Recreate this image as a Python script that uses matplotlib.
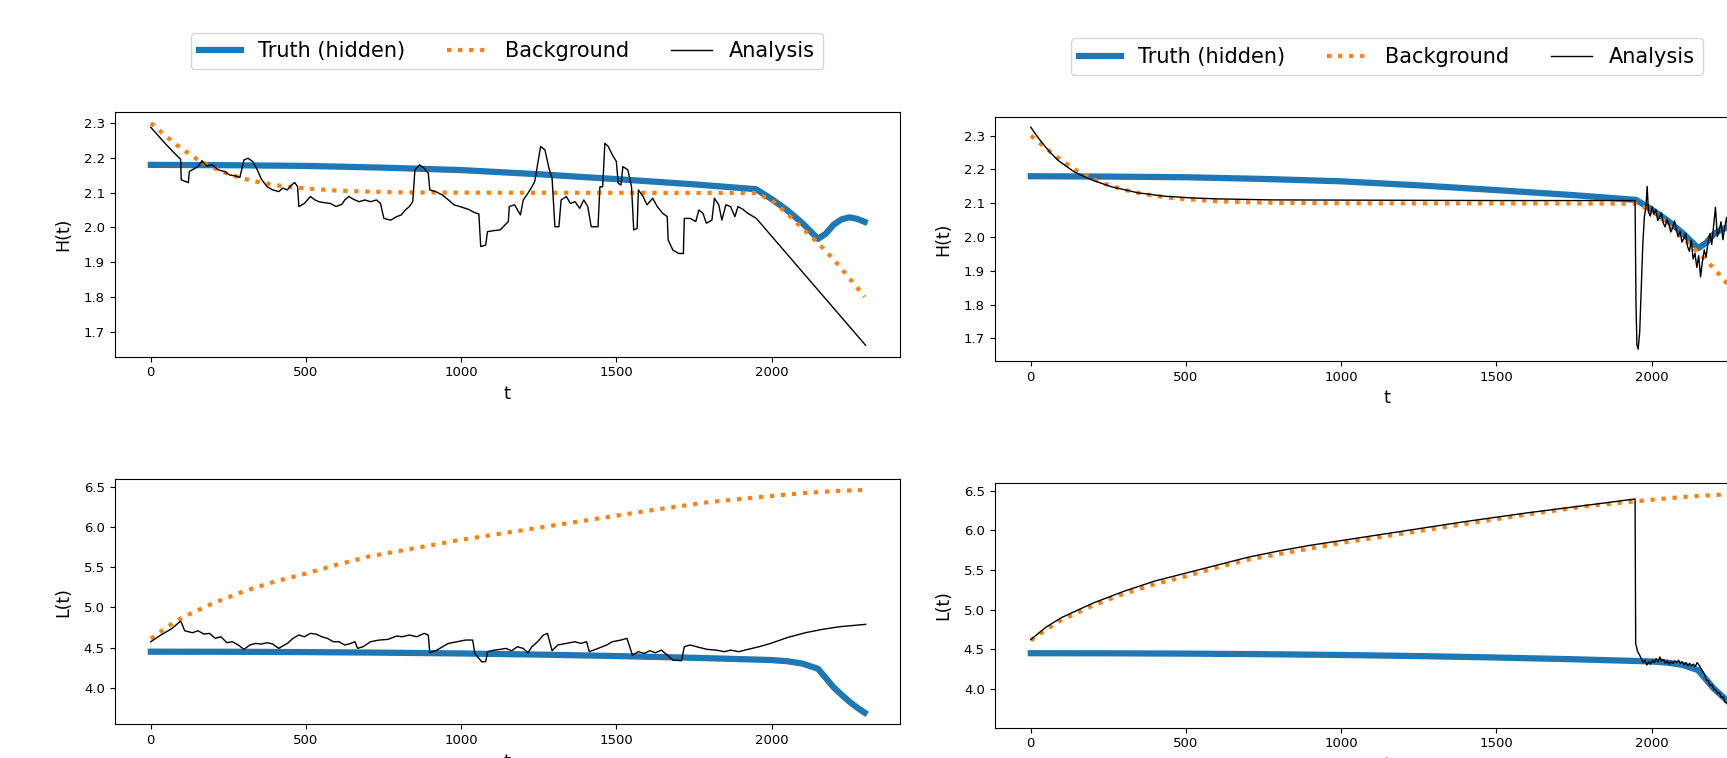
import matplotlib.pyplot as plt

# truth (same in both runs)
t_truth = [0, 250, 500, 750, 1000, 1250, 1500, 1750, 1950, 2000, 2050, 2100, 2150,
           2175, 2200, 2225, 2250, 2275, 2300]
H_truth = [2.180, 2.179, 2.177, 2.172, 2.165, 2.153, 2.139, 2.124, 2.110, 2.082, 2.050,
           2.012, 1.967, 1.982, 2.008, 2.023, 2.029, 2.025, 2.016]
L_truth = [4.448, 4.447, 4.443, 4.436, 4.426, 4.412, 4.394, 4.372, 4.350, 4.344, 4.330,
           4.300, 4.235, 4.120, 4.005, 3.915, 3.830, 3.755, 3.690]

# background (same in both runs)
t_bg_H = [0, 25, 50, 75, 100, 150, 200, 250, 300, 350, 400, 450, 500, 600, 700, 800,
          1000, 1950, 2000, 2050, 2100, 2150, 2200, 2250, 2300]
H_bg = [2.300, 2.281, 2.262, 2.243, 2.226, 2.196, 2.172, 2.154, 2.140, 2.130, 2.122,
        2.116, 2.112, 2.106, 2.103, 2.101, 2.100, 2.099, 2.078, 2.040, 1.997, 1.955,
        1.908, 1.855, 1.800]
t_bg_L = [0, 50, 100, 200, 300, 400, 500, 600, 700, 800, 900, 1000, 1200, 1400, 1600,
          1800, 2000, 2100, 2200, 2300]
L_bg = [4.61, 4.75, 4.87, 5.05, 5.20, 5.32, 5.42, 5.53, 5.63, 5.70, 5.77, 5.84, 5.96,
        6.08, 6.20, 6.31, 6.385, 6.42, 6.445, 6.46]

# run 1 (left): analysis H
t_ana_H1 = [0, 22, 50, 78, 96, 98, 121, 124, 152, 165, 180, 198, 217, 236, 254, 273, 287,
            300, 313, 328, 343, 356, 375, 393, 412, 425, 440, 453, 464, 473, 477, 495,
            514, 529, 542, 560, 579, 597, 616, 625, 638, 653, 671, 690, 708, 727, 740,
            751, 773, 792, 807, 820, 833, 844, 851, 866, 881, 894, 899, 918, 940, 959,
            977, 996, 1024, 1042, 1057, 1063, 1079, 1085, 1107, 1126, 1141, 1152, 1155,
            1172, 1191, 1200, 1215, 1228, 1237, 1246, 1256, 1270, 1283, 1293, 1302, 1315,
            1322, 1339, 1352, 1367, 1382, 1395, 1408, 1419, 1441, 1447, 1456, 1463, 1474,
            1487, 1500, 1506, 1515, 1521, 1537, 1549, 1556, 1567, 1571, 1586, 1599, 1617,
            1632, 1649, 1664, 1667, 1682, 1701, 1716, 1719, 1738, 1756, 1766, 1779, 1790,
            1808, 1816, 1830, 1840, 1853, 1868, 1882, 1892, 1908, 1923, 1951, 2303]
H_ana1 = [2.288, 2.266, 2.238, 2.212, 2.196, 2.137, 2.129, 2.161, 2.175, 2.192, 2.177,
          2.180, 2.166, 2.161, 2.151, 2.148, 2.144, 2.194, 2.199, 2.190, 2.166, 2.139,
          2.117, 2.108, 2.103, 2.113, 2.108, 2.122, 2.129, 2.117, 2.060, 2.069, 2.089,
          2.079, 2.074, 2.071, 2.069, 2.060, 2.067, 2.079, 2.089, 2.081, 2.074, 2.079,
          2.074, 2.079, 2.069, 2.026, 2.021, 2.031, 2.036, 2.050, 2.060, 2.074, 2.166,
          2.180, 2.170, 2.156, 2.108, 2.103, 2.093, 2.079, 2.065, 2.060, 2.052, 2.043,
          2.039, 1.945, 1.949, 1.988, 1.991, 1.993, 2.007, 2.017, 2.060, 2.065, 2.036,
          2.079, 2.098, 2.117, 2.132, 2.180, 2.233, 2.223, 2.170, 2.141, 2.002, 2.002,
          2.079, 2.089, 2.069, 2.074, 2.055, 2.079, 2.060, 2.002, 2.002, 2.117, 2.117,
          2.242, 2.233, 2.209, 2.190, 2.127, 2.122, 2.175, 2.166, 2.117, 1.993, 1.997,
          2.108, 2.089, 2.065, 2.084, 2.060, 2.041, 2.031, 1.964, 1.935, 1.925, 1.925,
          2.026, 2.026, 2.017, 2.050, 2.041, 2.012, 2.021, 2.084, 2.065, 2.021, 2.065,
          2.060, 2.031, 2.060, 2.052, 2.041, 2.026, 1.661]

# run 1 (left): analysis L
t_ana_L1 = [0, 32, 69, 96, 102, 109, 134, 152, 171, 189, 208, 226, 245, 263, 282, 300,
            319, 338, 356, 375, 393, 412, 421, 440, 458, 477, 495, 514, 532, 551, 569,
            588, 606, 625, 644, 658, 666, 684, 708, 736, 764, 792, 810, 833, 857, 881,
            894, 899, 922, 940, 959, 987, 1014, 1037, 1044, 1066, 1079, 1085, 1107, 1126,
            1144, 1163, 1181, 1200, 1215, 1228, 1246, 1265, 1278, 1293, 1311, 1339, 1367,
            1385, 1404, 1413, 1441, 1469, 1487, 1515, 1534, 1552, 1571, 1590, 1608, 1626,
            1645, 1664, 1682, 1710, 1719, 1738, 1766, 1793, 1821, 1849, 1868, 1895, 1914,
            1960, 1997, 2053, 2109, 2164, 2220, 2303]
L_ana1 = [4.572, 4.655, 4.738, 4.829, 4.779, 4.709, 4.684, 4.709, 4.667, 4.676, 4.614,
          4.634, 4.560, 4.572, 4.531, 4.477, 4.531, 4.551, 4.543, 4.560, 4.543, 4.489,
          4.510, 4.551, 4.614, 4.655, 4.634, 4.676, 4.667, 4.634, 4.614, 4.572, 4.572,
          4.531, 4.551, 4.572, 4.489, 4.510, 4.572, 4.593, 4.601, 4.643, 4.634, 4.655,
          4.634, 4.676, 4.655, 4.435, 4.468, 4.510, 4.551, 4.572, 4.593, 4.593, 4.427,
          4.323, 4.323, 4.448, 4.468, 4.477, 4.489, 4.460, 4.510, 4.489, 4.435, 4.510,
          4.572, 4.655, 4.676, 4.460, 4.531, 4.551, 4.572, 4.551, 4.572, 4.448, 4.489,
          4.531, 4.572, 4.593, 4.614, 4.406, 4.448, 4.427, 4.460, 4.435, 4.468, 4.406,
          4.344, 4.336, 4.510, 4.531, 4.502, 4.477, 4.468, 4.448, 4.468, 4.448, 4.468,
          4.510, 4.551, 4.626, 4.684, 4.726, 4.759, 4.788]

# run 2 (right): analysis H
t_ana_H2 = [0, 15, 38, 60, 89, 140, 191, 259, 345, 430, 515, 601, 771, 1113, 1500, 1947,
            1950, 1953, 1957, 1962, 1967, 1972, 1977, 1982, 1986,
            1990, 1996, 2002, 2008, 2014, 2020, 2026, 2032, 2038, 2044, 2050, 2056, 2062,
            2068, 2074, 2080, 2086, 2092, 2098, 2104, 2110, 2116, 2122, 2128, 2134, 2140,
            2146, 2152, 2158, 2164, 2170, 2176, 2182, 2188, 2194, 2200, 2206, 2212, 2218,
            2224, 2230, 2236, 2242, 2248, 2254, 2260, 2266, 2272, 2278, 2284, 2290, 2296,
            2302]
H_ana2 = [2.325, 2.305, 2.277, 2.253, 2.226, 2.193, 2.171, 2.149, 2.131, 2.121, 2.116,
          2.113, 2.110, 2.109, 2.108, 2.108,
          1.800, 1.680, 1.668, 1.720, 1.850, 1.980, 2.060, 2.090, 2.150,
          2.075, 2.062, 2.090, 2.068, 2.081, 2.049, 2.058, 2.072, 2.041, 2.030, 2.052,
          2.038, 2.015, 2.027, 2.048, 2.022, 2.001, 2.018, 1.985, 1.996, 2.012, 1.972,
          1.958, 1.990, 1.935, 1.952, 1.910, 1.945, 1.882, 1.928, 1.962, 1.940, 1.985,
          2.010, 1.978, 2.032, 2.088, 2.002, 2.018, 2.045, 1.992, 2.030, 2.058, 2.006,
          2.026, 2.040, 2.012, 2.034, 2.020, 2.004, 2.028, 2.012, 2.022]

# run 2 (right): analysis L
t_ana_L2 = [0, 50, 100, 200, 300, 400, 500, 600, 700, 800, 900, 1000, 1200, 1400, 1600,
            1800, 1947, 1949, 1955, 1961, 1967, 1973, 1979, 1985, 1991, 1997, 2003, 2009,
            2015, 2021, 2027, 2033, 2039, 2045, 2051, 2057, 2063, 2069, 2075, 2081, 2087,
            2093, 2099, 2105, 2111, 2117, 2123, 2129, 2135, 2141, 2147, 2153, 2159, 2165,
            2171, 2177, 2183, 2189, 2195, 2201, 2207, 2213, 2219, 2225, 2231, 2237, 2243,
            2249, 2255, 2261, 2267, 2273, 2279, 2285, 2291, 2297, 2303]
L_ana2 = [4.62, 4.78, 4.90, 5.08, 5.23, 5.36, 5.46, 5.56, 5.66, 5.74, 5.81, 5.87, 5.99,
          6.11, 6.22, 6.32, 6.395, 4.57, 4.47, 4.43, 4.38, 4.33, 4.36, 4.30, 4.34, 4.31,
          4.36, 4.33, 4.38, 4.34, 4.40, 4.35, 4.37, 4.32, 4.35, 4.31, 4.34, 4.32, 4.35,
          4.33, 4.36, 4.32, 4.34, 4.30, 4.33, 4.29, 4.32, 4.29, 4.31, 4.28, 4.33, 4.30,
          4.26, 4.22, 4.18, 4.11, 4.10, 4.04, 4.05, 3.99, 3.99, 3.94, 3.95, 3.89, 3.90,
          3.83, 3.82, 3.76, 3.77, 3.74, 3.72, 3.70, 3.69, 3.67, 3.66, 3.65, 3.66]

W, HPX = 1727, 758
fig = plt.figure(figsize=(W / 100, HPX / 100), dpi=100)


def add_ax(left, top, right, bottom):
    # box given in pixels from the top-left corner
    return fig.add_axes([left / W, (HPX - bottom) / HPX, (right - left) / W, (bottom - top) / HPX])


def draw(ax, t_bg, bg, truth, t_ana, ana, ylabel, ylim):
    ax.plot(t_truth, truth, color='C0', lw=4.5, label='Truth (hidden)')
    ax.plot(t_bg, bg, color='C1', lw=3, ls=':', label='Background')
    ax.plot(t_ana, ana, color='k', lw=1, label='Analysis')
    ax.set_xlim(-117, 2414)
    ax.set_ylim(*ylim)
    ax.set_xlabel('t', fontsize=13)
    ax.set_ylabel(ylabel, fontsize=12.5, labelpad=8)
    ax.tick_params(labelsize=9.5)


ax1 = add_ax(114.5, 111.7, 900, 356.7)
ax2 = add_ax(114.5, 479, 900, 724.3)
ax3 = add_ax(994.5, 117.3, 1780, 361)
ax4 = add_ax(994.5, 483.3, 1780, 727.7)

draw(ax1, t_bg_H, H_bg, H_truth, t_ana_H1, H_ana1, 'H(t)', (1.628, 2.333))
draw(ax2, t_bg_L, L_bg, L_truth, t_ana_L1, L_ana1, 'L(t)', (3.545, 6.596))
draw(ax3, t_bg_H, H_bg, H_truth, t_ana_H2, H_ana2, 'H(t)', (1.633, 2.3545))
draw(ax4, t_bg_L, L_bg, L_truth, t_ana_L2, L_ana2, 'L(t)', (3.508, 6.593))

for ax in (ax1, ax3):
    ax.legend(loc='lower center', bbox_to_anchor=(0.5, 1.173), borderaxespad=0,
              ncol=3, fontsize=15)

fig.savefig('out.png', dpi=100)
